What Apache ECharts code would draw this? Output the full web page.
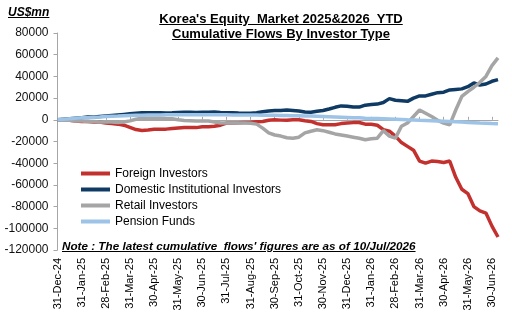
<!DOCTYPE html>
<html>
<head>
<meta charset="utf-8">
<title>Korea Equity Flows</title>
<script src="https://cdn.jsdelivr.net/npm/echarts@6/dist/echarts.min.js"></script>
<style>
  body { margin: 0; padding: 0; background: #fff; }
  #wrap { position: relative; width: 512px; height: 317px; font-family: Arial, "Liberation Sans", sans-serif; }
  #main { position: absolute; left: 0; top: 0; width: 512px; height: 317px; }
  .txt { position: absolute; color: #000; font-weight: bold; text-decoration: underline; white-space: nowrap; }
</style>
</head>
<body>
<div id="wrap">
  <div id="main"></div>
  <div class="txt" style="left:8px;top:5px;font-size:12px;font-style:italic;">US$mn</div>
  <div class="txt" style="left:0;width:562px;top:11px;font-size:13px;line-height:15px;text-align:center;">Korea's Equity&nbsp; Market 2025&amp;2026&nbsp; YTD<br>Cumulative Flows By Investor Type</div>
  <div class="txt" style="left:62px;top:239px;font-size:11.7px;font-style:italic;">Note : The latest cumulative&nbsp; flows' figures are as of 10/Jul/2026</div>
</div>
<script type="text/javascript">
// month-end tick labels on the x axis
var tickLabels = ['31-Dec-24','31-Jan-25','28-Feb-25','31-Mar-25','30-Apr-25','31-May-25','30-Jun-25',
  '31-Jul-25','31-Aug-25','30-Sep-25','31-Oct-25','30-Nov-25','31-Dec-25','31-Jan-26','28-Feb-26',
  '31-Mar-26','30-Apr-26','31-May-26','30-Jun-26'];
var lastDate = '10-Jul-26';

// categories: month end plus three points inside each month
var dates = [tickLabels[0]];
for (var m = 1; m < tickLabels.length; m++) {
  var rest = tickLabels[m].slice(2);
  dates.push('08' + rest, '15' + rest, '23' + rest, tickLabels[m]);
}
dates.push(lastDate);

// cumulative flows, US$mn
var foreign = [0,0,-500,-1000,-1500,-1500,-2000,-2000,-3000,-3500,-4000,-5000,
  -7000,-9000,-9800,-9500,-8800,-8600,-8600,-8000,-7500,-7000,-7000,-7200,
  -6500,-6500,-6000,-5000,-3000,-3000,-2800,-2500,-2300,-1800,-1500,-500,
  0,-300,-500,0,0,-800,-1500,-3500,-4600,-4600,-4500,-3500,
  -3000,-2600,-2500,-4000,-4200,-5000,-9000,-10500,-15000,-21000,-24500,-28000,
  -38000,-40000,-38000,-38500,-39400,-38000,-53000,-64000,-68000,-80000,-84000,-86000,
  -98000,-108000];
var domestic = [0,500,1000,1500,2000,2500,2500,3000,3500,4000,4500,5000,
  5500,6000,6500,6500,6500,6500,6300,6500,6800,7000,7000,6800,
  7000,7000,7200,6800,6500,6500,6200,6000,6000,6500,7500,8200,
  8500,8600,9000,8600,8200,7200,7000,7800,8600,10000,11500,12800,
  12500,11800,11700,13500,14000,14500,16000,19500,18000,17500,17000,20000,
  22000,22000,23500,25000,25500,27500,28000,28500,30500,34000,32000,33000,
  35500,37000];
var retail = [0,-500,-500,-1000,-1000,-1500,-1500,-2000,-2000,-2000,-2500,-2000,
  -1000,500,1500,1500,1500,1500,1200,1000,0,-600,-800,-1000,
  -1000,-1200,-2000,-3000,-3000,-3000,-3000,-3000,-3200,-4000,-7700,-12000,
  -14000,-15000,-16500,-17000,-16000,-12000,-10500,-9200,-10000,-11500,-13000,-14000,
  -15000,-16000,-17000,-18400,-17500,-16900,-10000,-15000,-16900,-6000,-3000,3000,
  9000,6000,3000,-500,-3000,-4600,9000,21500,26000,30000,34500,40000,
  50000,57000];
var pension = [0,500,1000,1500,1800,2000,2300,2500,3000,3300,3500,3800,
  4000,4200,4300,4400,4500,4500,4600,4600,4600,4700,4700,4700,
  4700,4600,4600,4600,4600,4500,4500,4500,4400,4400,4300,4200,
  4100,4000,3900,3800,3700,3500,3400,3200,3000,2800,2600,2400,
  2200,2000,1800,1500,1300,1100,900,700,500,300,0,-200,
  -500,-700,-900,-1100,-1300,-1500,-1800,-2100,-2400,-2700,-3000,-3200,
  -3500,-3700];

var seriesNames = ['Foreign Investors','Domestic Institutional Investors','Retail Investors','Pension Funds'];
var seriesColors = ['#C3312F','#0E3A63','#A5A5A5','#9DC3E6'];
var seriesData = [foreign, domestic, retail, pension];

var isTick = function (idx, val) { return tickLabels.indexOf(val) >= 0; };
var font = 'Arial, "Liberation Sans", sans-serif';

var myChart = echarts.init(document.getElementById('main'));
var series = [];
for (var i = 0; i < seriesNames.length; i++) {
  series.push({
    name: seriesNames[i],
    type: 'line',
    data: seriesData[i],
    showSymbol: false,
    symbol: 'none',
    lineStyle: { width: 3.5, color: seriesColors[i] },
    itemStyle: { color: seriesColors[i] },
    z: 2 + i,
    animation: false
  });
}

var option = {
  animation: false,
  grid: { left: 57.5, right: 14, top: 33, bottom: 67 },
  legend: {
    orient: 'vertical',
    left: 76,
    top: 162,
    itemWidth: 29,
    itemHeight: 4,
    itemGap: 3,
    icon: 'rect',
    data: seriesNames,
    textStyle: { fontFamily: font, fontSize: 12, color: '#000', lineHeight: 13 }
  },
  xAxis: [{
    type: 'category',
    data: dates,
    boundaryGap: false,
    axisLine: { onZero: true, lineStyle: { color: '#A6A6A6', width: 1 } },
    axisTick: { show: true, inside: true, length: 3, interval: isTick, lineStyle: { color: '#A6A6A6' } },
    axisLabel: { show: false },
    splitLine: { show: false }
  }, {
    type: 'category',
    data: dates,
    boundaryGap: false,
    position: 'bottom',
    axisLine: { show: false, onZero: false },
    axisTick: { show: false },
    axisLabel: {
      interval: isTick,
      rotate: 90,
      margin: 8,
      fontFamily: font,
      fontSize: 11,
      color: '#000'
    },
    splitLine: { show: false }
  }],
  yAxis: {
    type: 'value',
    min: -120000,
    max: 80000,
    interval: 20000,
    axisLine: { show: true, lineStyle: { color: '#A6A6A6', width: 1 } },
    axisTick: { show: true, length: 4, lineStyle: { color: '#A6A6A6' } },
    axisLabel: {
      margin: 9, fontFamily: font, fontSize: 12, color: '#111',
      formatter: function (v) { return String(v); }
    },
    splitLine: { show: false }
  },
  series: series
};
myChart.setOption(option);
</script>
</body>
</html>
